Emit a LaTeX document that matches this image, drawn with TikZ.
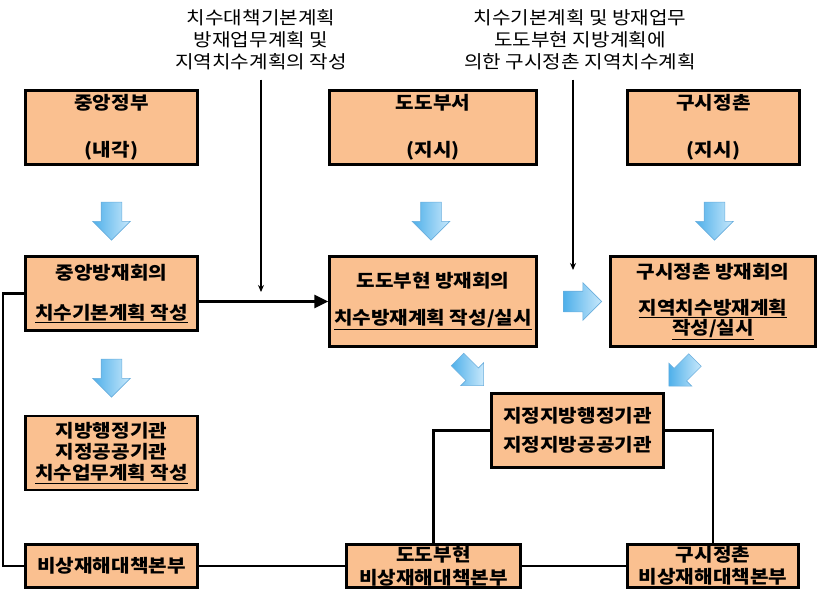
\documentclass[tikz,border=0pt]{standalone}
\usepackage{fontspec}
\usepackage{tikz}
\usetikzlibrary{shapes.arrows, arrows.meta, positioning}
\newfontfamily\krfont[FakeStretch=1.12]{Noto Sans CJK KR}
\definecolor{boxfill}{HTML}{FAC090}
\definecolor{arrowdark}{HTML}{4FB0EA}
\definecolor{arrowlight}{HTML}{C8E8FB}
\definecolor{arrowedge}{HTML}{6AAEDD}

\begin{document}
\begin{tikzpicture}[x=1pt, y=-1pt,
        orgbox/.style={draw, line width=2.5pt, fill=boxfill, align=center, inner sep=0pt,
            minimum width=172pt, minimum height=74pt,
            font=\krfont\bfseries\fontsize{18}{20}\selectfont},
        blockarrow/.style={single arrow, draw=arrowedge, line width=0.6pt,
            left color=arrowdark, right color=arrowlight, inner xsep=0pt, inner ysep=10pt,
            single arrow head extend=8.5pt, single arrow tip angle=90,
            minimum height=38pt},
        note/.style={align=center, font=\krfont\fontsize{18}{22}\selectfont},
        link/.style={line width=2.8pt},
        feed/.style={line width=1.8pt, -{Stealth[length=7pt, width=6pt]}}]
        \useasboundingbox (0, 0) rectangle (819, 600);

        % notes on top
        \node[note] (lbl1) at (261, 40) {치수대책기본계획\\방재업무계획 및\\지역치수계획의 작성};
        \node[note] (lbl2) at (580, 40) {치수기본계획 및 방재업무\\도도부현 지방계획에\\의한 구시정촌 지역치수계획};

        % first row
        \node[orgbox] (gov) at (111.5, 127.5) {중앙정부\\[27pt](내각)};
        \node[orgbox, minimum width=207pt] (pref) at (433, 127.5) {도도부서\\[27pt](지시)};
        \node[orgbox] (muni) at (713.5, 127.5) {구시정촌\\[27pt](지시)};

        % councils
        \node[orgbox] (cdm) at (111.5, 293.5) {중앙방재회의\\[20pt]\underline{치수기본계획 작성}};
        \node[orgbox, minimum width=207pt, minimum height=90pt] (pdm) at (433, 301.5) {도도부현 방재회의\\[17pt]\underline{치수방재계획 작성/실시}};
        \node[orgbox, minimum width=205pt, minimum height=90pt] (mdm) at (713, 301.5) {구시정촌 방재회의\\[16pt]\underline{지역치수방재계획}\\\underline{작성/실시}};

        % agencies
        \node[orgbox, font=\krfont\bfseries\fontsize{18}{21}\selectfont] (agency) at (111.5, 453) {지방행정기관\\지정공공기관\\\underline{치수업무계획 작성}};
        \node[orgbox] (desig) at (577.5, 430.5) {지정지방행정기관\\[9pt]지정지방공공기관};

        % headquarters
        \node[orgbox, minimum height=43pt] (hq) at (111.5, 566) {비상재해대책본부};
        \node[orgbox, minimum width=174pt, minimum height=43pt] (phq) at (433.5, 566) {도도부현\\[3pt]비상재해대책본부};
        \node[orgbox, minimum width=171pt, minimum height=43pt] (mhq) at (713, 566) {구시정촌\\[2pt]비상재해대책본부};

        % block arrows
        \node[blockarrow, rotate=-90] (a1) at (111.5, 216) {};
        \node[blockarrow, rotate=-90] (a2) at (431, 216) {};
        \node[blockarrow, rotate=-90] (a3) at (714.5, 216) {};
        \node[blockarrow, rotate=-90] (a4) at (111.5, 373) {};
        \node[blockarrow] (a5) at (577.5, 301.5) {};
        \node[blockarrow, rotate=-45, minimum height=37pt, inner ysep=8.5pt, single arrow head extend=7.5pt] (a6) at (467.5, 369.5) {};
        \node[blockarrow, rotate=-135, minimum height=37pt, inner ysep=8.5pt, single arrow head extend=7.5pt] (a7) at (685, 370) {};

        % connectors
        \coordinate (lft) at (3, 293.5);
        \coordinate (in1) at (261, 292);
        \coordinate (in2) at (573, 270);

        \draw[link, -{Triangle[length=14pt, width=13pt]}] (cdm.east |- pdm.west) -- (pdm.west);
        \draw[feed, shorten <=6pt] (lbl1.south) -- (in1);
        \draw[feed, shorten <=6pt] (in2 |- lbl2.south) -- (in2);
        \draw[link] (cdm.west) -- (lft) |- (hq.west);
        \draw[link] (hq) -- (phq)
            (phq) -- (mhq)
            (desig.west) -| (phq.north)
            (desig.east) -| (mhq.north);
    \end{tikzpicture}
\end{document}
